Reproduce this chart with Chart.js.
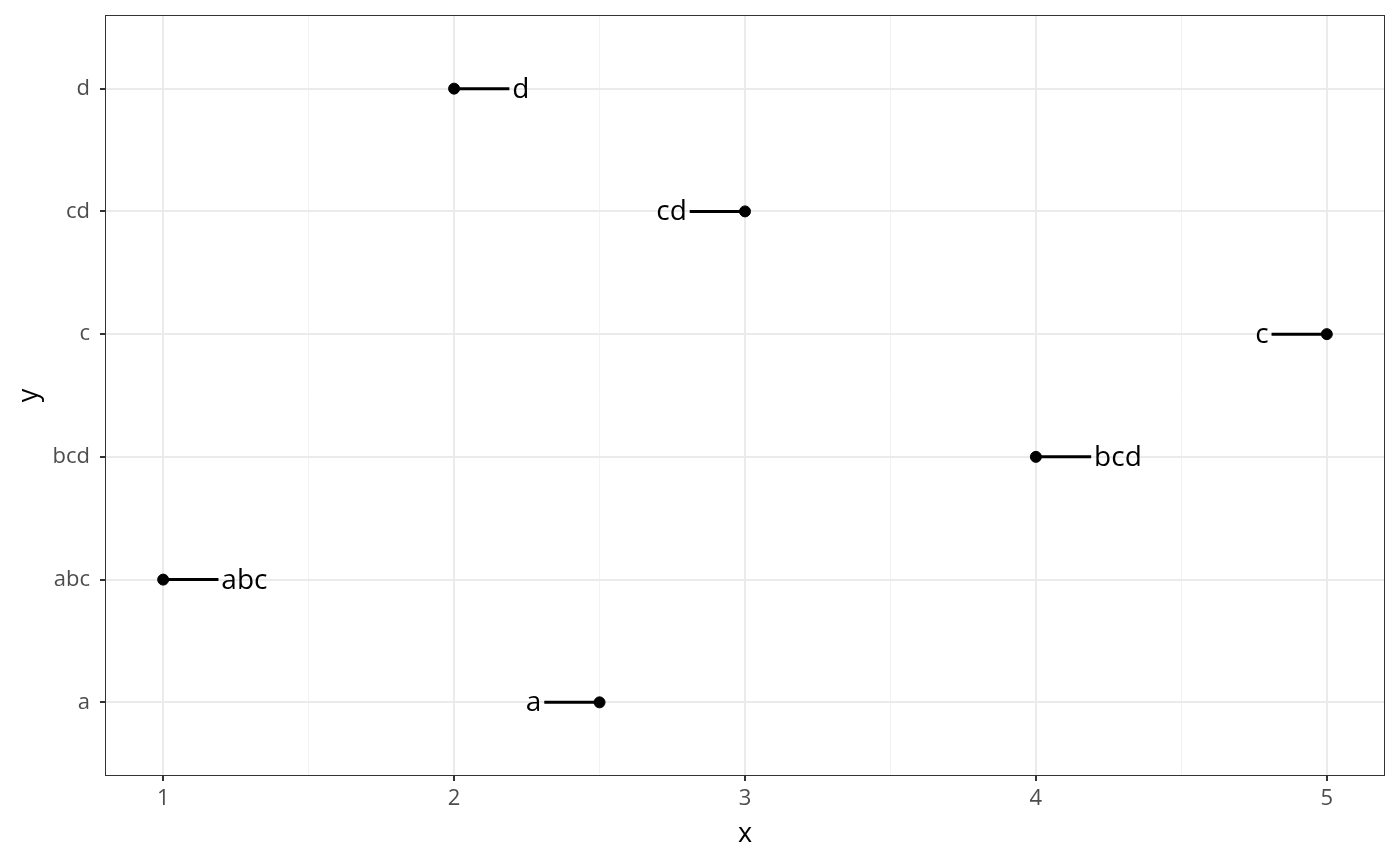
<!DOCTYPE html>
<html>
<head>
<meta charset="utf-8">
<script src="https://cdn.jsdelivr.net/npm/chart.js@4"></script>
<style>
  html, body { margin: 0; padding: 0; background: #fff; }
  #wrap { width: 1400px; height: 866px; }
</style>
</head>
<body>
<div id="wrap"><canvas id="chart" width="1400" height="866"></canvas></div>
<script>
// categories on the y axis, bottom to top
const yCategories = ['a', 'abc', 'bcd', 'c', 'cd', 'd']
const xTicks = [1, 2, 3, 4, 5]

// the points
const pointLabels = ['abc', 'd', 'a', 'cd', 'bcd', 'c']
const pointX = [1, 2, 2.5, 3, 4, 5]
const pointY = ['abc', 'd', 'a', 'cd', 'bcd', 'c']
// where each label sits, and where its segment stops
const labelX = [1.2, 2.2, 2.3, 2.8, 4.2, 4.8]
const segmentEndX = [1.19, 2.19, 2.31, 2.81, 4.19, 4.81]

const catIndex = name => yCategories.indexOf(name) + 1
const FONT = "'Open Sans', 'Noto Sans', sans-serif"

const segmentSets = pointX.map((x, i) => ({
  type: 'line',
  data: [{ x, y: catIndex(pointY[i]) }, { x: segmentEndX[i], y: catIndex(pointY[i]) }],
  borderColor: '#000',
  borderWidth: 3,
  pointRadius: 0,
  showLine: true
}))

// draws the text at the end of each segment
const textLabels = {
  id: 'textLabels',
  afterDatasetsDraw (chart) {
    const { ctx, scales } = chart
    ctx.save()
    ctx.font = `28px ${FONT}`
    ctx.fillStyle = '#000'
    ctx.textBaseline = 'middle'
    pointLabels.forEach((txt, i) => {
      ctx.textAlign = labelX[i] > pointX[i] ? 'left' : 'right'
      const px = scales.x.getPixelForValue(labelX[i])
      const py = scales.y.getPixelForValue(catIndex(pointY[i]))
      ctx.fillText(txt, px, py + 1)
    })
    ctx.restore()
  }
}

new Chart(document.getElementById('chart'), {
  type: 'scatter',
  data: {
    datasets: [
      ...segmentSets,
      {
        type: 'scatter',
        data: pointX.map((x, i) => ({ x, y: catIndex(pointY[i]) })),
        backgroundColor: '#000',
        borderColor: '#000',
        pointRadius: 5.5,
        pointHoverRadius: 5.5
      }
    ]
  },
  options: {
    responsive: false,
    animation: false,
    events: [],
    layout: { padding: { top: 15, right: 15, left: 0, bottom: 0 } },
    plugins: { legend: { display: false }, tooltip: { enabled: false } },
    scales: {
      x: {
        type: 'linear',
        min: 0.8,
        max: 5.2,
        afterBuildTicks: scale => {
          scale.ticks = [1, 1.5, 2, 2.5, 3, 3.5, 4, 4.5, 5].map(v => ({ value: v }))
        },
        afterFit: scale => {
          scale.height = 90
          scale.paddingLeft = 0
          scale.paddingRight = 0
        },
        grid: {
          color: ctx => (xTicks.includes(ctx.tick.value) ? '#EBEBEB' : '#F2F2F2'),
          lineWidth: ctx => (xTicks.includes(ctx.tick.value) ? 2 : 1),
          tickColor: ctx => (xTicks.includes(ctx.tick.value) ? '#333333' : 'rgba(0,0,0,0)'),
          tickLength: 5,
          tickWidth: 2
        },
        border: { display: false },
        ticks: {
          autoSkip: false,
          maxRotation: 0,
          padding: 5,
          color: '#4D4D4D',
          font: { family: FONT, size: 22 },
          callback: v => (xTicks.includes(v) ? String(v) : '')
        },
        title: {
          display: true,
          text: 'x',
          color: '#000',
          font: { family: FONT, size: 27 },
          padding: { top: 0, bottom: 15 }
        }
      },
      y: {
        type: 'linear',
        min: 0.4,
        max: 6.6,
        afterBuildTicks: scale => {
          scale.ticks = yCategories.map((c, i) => ({ value: i + 1 }))
        },
        afterFit: scale => {
          scale.width = 105
          scale.paddingTop = 0
          scale.paddingBottom = 0
        },
        grid: {
          color: '#EBEBEB',
          lineWidth: 2,
          tickColor: '#333333',
          tickLength: 5,
          tickWidth: 2
        },
        border: { display: false },
        ticks: {
          autoSkip: false,
          padding: 10,
          color: '#4D4D4D',
          font: { family: FONT, size: 22 },
          callback: v => yCategories[v - 1]
        },
        title: {
          display: true,
          text: 'y',
          color: '#000',
          font: { family: FONT, size: 27 },
          padding: { top: 13, bottom: 0 }
        }
      }
    }
  },
  plugins: [textLabels, {
    id: 'frame',
    afterDraw (chart) {
      const { ctx, chartArea: a } = chart
      ctx.save()
      ctx.strokeStyle = '#333333'
      ctx.lineWidth = 1
      ctx.strokeRect(a.left + 0.5, a.top + 0.5, a.right - a.left - 1, a.bottom - a.top - 1)
      ctx.restore()
    }
  }]
})
</script>
</body>
</html>
